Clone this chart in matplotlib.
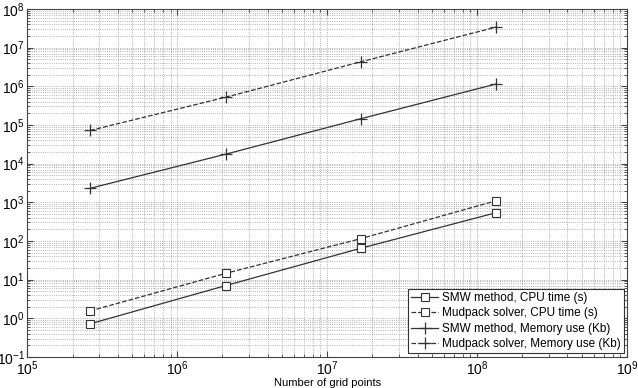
import matplotlib
matplotlib.use("Agg")
import matplotlib.pyplot as plt
from matplotlib.ticker import LogLocator, NullFormatter

plt.rcParams["font.family"] = ["Liberation Sans", "DejaVu Sans"]
plt.rcParams["mathtext.fontset"] = "custom"
plt.rcParams["mathtext.rm"] = "Liberation Sans"
plt.rcParams["mathtext.it"] = "Liberation Sans"
plt.rcParams["axes.unicode_minus"] = False

# grid sizes 64^3 .. 512^3
grid_points = [262144, 2097152, 16777216, 134217728]

smw_cpu = [0.72, 7.0, 65, 540]
mud_cpu = [1.55, 14.5, 115, 1100]
smw_mem = [2300, 17500, 145000, 1.15e6]
mud_mem = [72000, 520000, 4.3e6, 3.4e7]

labels = ["SMW method, CPU time (s)",
          "Mudpack solver, CPU time (s)",
          "SMW method, Memory use (Kb)",
          "Mudpack solver, Memory use (Kb)"]

fig = plt.figure(figsize=(6.38, 3.88), dpi=100)
ax = fig.add_axes([0.043, 0.08, 0.940, 0.897])

ax.loglog(grid_points, smw_cpu, "-", color="#333333", lw=0.9,
          marker="s", mfc="white", mec="#333333", ms=5.5, mew=0.8, label=labels[0])
ax.loglog(grid_points, mud_cpu, "--", color="#333333", lw=0.9,
          marker="s", mfc="white", mec="#333333", ms=5.5, mew=0.8, label=labels[1])
ax.loglog(grid_points, smw_mem, "-", color="#333333", lw=0.9,
          marker="+", ms=8, mew=0.9, label=labels[2])
ax.loglog(grid_points, mud_mem, "--", color="#333333", lw=0.9,
          marker="+", ms=8, mew=0.9, label=labels[3])

ax.set_xlim(1e5, 1e9)
ax.set_ylim(1e-1, 1e8)
ax.xaxis.set_major_locator(LogLocator(base=10, numticks=10))
ax.yaxis.set_major_locator(LogLocator(base=10, numticks=12))
ax.xaxis.set_minor_locator(LogLocator(base=10, subs=range(2, 10), numticks=20))
ax.yaxis.set_minor_locator(LogLocator(base=10, subs=range(2, 10), numticks=20))
ax.xaxis.set_minor_formatter(NullFormatter())
ax.yaxis.set_minor_formatter(NullFormatter())

ax.grid(True, which="both", linestyle=":", color="#999999", lw=0.6)
ax.tick_params(which="both", direction="in", top=True, right=True, labelsize=10, color="#444444")
ax.tick_params(which="major", length=4, pad=2)
ax.tick_params(which="minor", length=2)
for s in ax.spines.values():
    s.set_color("#444444")
    s.set_linewidth(0.8)

ax.set_xlabel("Number of grid points", fontsize=8, labelpad=0)

leg = ax.legend(loc="lower right", fontsize=8.5, frameon=True, fancybox=False,
                framealpha=1, edgecolor="#333333", borderpad=0.25,
                labelspacing=0.3, handlelength=2.3, handletextpad=0.3,
                borderaxespad=0.3)
leg.get_frame().set_linewidth(0.8)

fig.savefig("out.png", dpi=100)
